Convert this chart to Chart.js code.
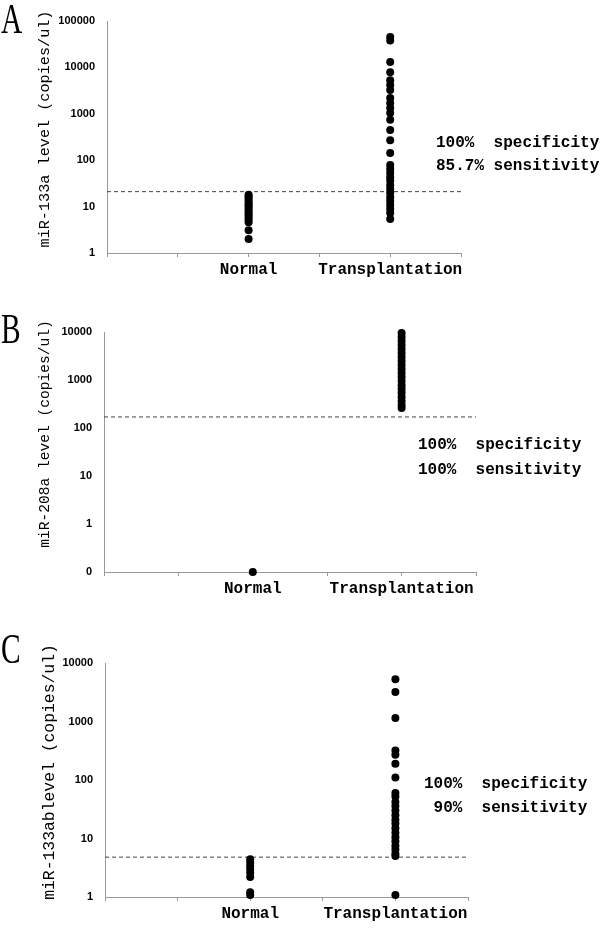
<!DOCTYPE html>
<html>
<head>
<meta charset="utf-8">
<script src="https://cdn.jsdelivr.net/npm/chart.js@4/dist/chart.umd.min.js"></script>
<style>
    body { margin: 0; background: #fff; }
    #quadro { position: relative; width: 600px; height: 929px; }
    canvas { position: absolute; left: 0; }
</style>
</head>
<body>
<div id="quadro">
    <canvas id="painel_a" width="600" height="290" style="top:0px"></canvas>
    <canvas id="painel_b" width="600" height="310" style="top:290px"></canvas>
    <canvas id="painel_c" width="600" height="329" style="top:600px"></canvas>
</div>
<script>
// categorias do eixo x (eixo linear de 0 a 5, grupos em 2 e 4)
const categorias = ["Normal", "Transplantation"];
const categorias_x = [2, 4];
const eixo_x_ticks = [0, 1, 2, 3, 4, 5];

// A - miR-133a
const a_normal = [2.0, 3.1, 4.6, 5.2, 5.8, 6.5, 7.2, 8.0, 9.0, 10, 11, 12, 13.5, 15, 16.5, 18];
const a_transplante = [45000, 38000, 13000, 7900, 5300, 4200, 3250, 2200, 1700, 1330, 1040, 740, 450, 270, 143,
    79, 65, 53, 43, 36, 29, 24, 19.6, 16, 13.2, 10.8, 8.9, 7.3, 5.4];
const a_corte = 21;
const a_ticks = [1, 10, 100, 1000, 10000, 100000];

// B - miR-208a (normais = 0, desenhados no fundo do eixo)
const b_normal = [0.1];
const b_transplante = [9500, 7900, 6500, 5350, 4400, 3650, 3000, 2500, 2050, 1700, 1400, 1150, 950, 780, 650,
    540, 440, 365, 300, 260];
const b_corte = 170;
const b_ticks = [0.1, 1, 10, 100, 1000, 10000];

// C - miR-133b
const c_normal = [1.08, 1.2, 2.2, 2.6, 3.0, 3.4, 3.9, 4.4];
const c_transplante = [5300, 3200, 1150, 320, 270, 190, 110, 60, 52, 42, 36, 30, 25, 21, 18, 15, 12.5, 10.5,
    9, 7.5, 6.5, 5.5, 5.0, 1.08];
const c_corte = 4.8;
const c_ticks = [1, 10, 100, 1000, 10000];

const fonte_mono = "'Liberation Mono', 'DejaVu Sans Mono', monospace";

// escreve letras, títulos do eixo y e os textos de especificidade
const pluginTextos = {
    id: "textos",
    afterDraw(chart, args, opts) {
        const ctx = chart.ctx;
        (opts.itens || []).forEach((it) => {
            ctx.save();
            ctx.font = it.fonte;
            ctx.fillStyle = "#000";
            ctx.textAlign = it.align || "left";
            ctx.textBaseline = it.base || "middle";
            ctx.translate(it.x, it.y);
            if (it.rot) ctx.rotate(it.rot);
            if (it.escalaX) ctx.scale(it.escalaX, 1);
            ctx.fillText(it.texto, 0, 0);
            ctx.restore();
        });
    },
};

function pontos(valores, x) {
    return valores.map((v) => ({ x: x, y: v }));
}

function montarPainel(id, normal, transplante, corte, ticks, opc) {
    return new Chart(id, {
        type: "scatter",
        data: {
            datasets: [
                {
                    data: pontos(normal, categorias_x[0]),
                    backgroundColor: "#000",
                    borderWidth: 0,
                    pointRadius: 4,
                    clip: false,
                },
                {
                    data: pontos(transplante, categorias_x[1]),
                    backgroundColor: "#000",
                    borderWidth: 0,
                    pointRadius: 4,
                    clip: false,
                },
                {
                    data: [{ x: 0, y: corte }, { x: 5, y: corte }],
                    showLine: true,
                    borderColor: "#444",
                    borderWidth: 1,
                    borderDash: [4, 3],
                    pointRadius: 0,
                },
            ],
        },
        options: {
            responsive: false,
            animation: false,
            layout: { padding: { top: opc.topo, right: opc.direita, left: 0, bottom: 0 } },
            plugins: {
                legend: { display: false },
                tooltip: { enabled: false },
                textos: { itens: opc.textos },
            },
            scales: {
                x: {
                    type: "linear",
                    min: 0,
                    max: 5,
                    afterFit: (s) => { s.height = opc.alturaX; },
                    afterBuildTicks: (s) => { s.ticks = eixo_x_ticks.map((v) => ({ value: v })); },
                    grid: { drawOnChartArea: false, drawTicks: true, tickLength: 4, color: "#999" },
                    border: { display: true, color: "#999", width: 1 },
                    ticks: {
                        autoSkip: false,
                        maxRotation: 0,
                        padding: 3,
                        color: "#000",
                        font: { family: fonte_mono, size: 16, weight: "bold" },
                        callback: (v) => {
                            const i = categorias_x.indexOf(v);
                            return i >= 0 ? categorias[i] : "";
                        },
                    },
                },
                y: {
                    type: "logarithmic",
                    min: ticks[0],
                    max: ticks[ticks.length - 1],
                    afterFit: (s) => { s.width = opc.larguraY; },
                    afterBuildTicks: (s) => { s.ticks = ticks.map((v) => ({ value: v })); },
                    grid: { display: false, drawTicks: false },
                    border: { display: true, color: "#999", width: 1 },
                    ticks: {
                        padding: 12,
                        color: "#000",
                        font: { family: "'Liberation Sans', Arial, sans-serif", size: 11, weight: "bold" },
                        callback: (v) => (v < 1 ? "0" : String(v)),
                    },
                },
            },
        },
        plugins: [pluginTextos],
    });
}

const fonte_letra = "42px 'Liberation Serif', 'DejaVu Serif', serif";
const fonte_nota = "bold 16px " + fonte_mono;

montarPainel("painel_a", a_normal, a_transplante, a_corte, a_ticks, {
    topo: 21, direita: 139, alturaX: 37, larguraY: 107,
    textos: [
        { texto: "A", x: 1, y: 33, fonte: fonte_letra, base: "alphabetic", escalaX: 0.7 },
        { texto: "miR-133a level (copies/ul)", x: 45, y: 129, rot: -Math.PI / 2, align: "center", fonte: "15.2px " + fonte_mono },
        { texto: "100%  specificity", x: 436, y: 143, fonte: fonte_nota },
        { texto: "85.7% sensitivity", x: 436, y: 166, fonte: fonte_nota },
    ],
});

montarPainel("painel_b", b_normal, b_transplante, b_corte, b_ticks, {
    topo: 42, direita: 124, alturaX: 28, larguraY: 104,
    textos: [
        { texto: "B", x: 1, y: 53, fonte: fonte_letra, base: "alphabetic", escalaX: 0.7 },
        { texto: "miR-208a level (copies/ul)", x: 45, y: 144, rot: -Math.PI / 2, align: "center", fonte: "14.6px " + fonte_mono },
        { texto: "100%  specificity", x: 418, y: 155, fonte: fonte_nota },
        { texto: "100%  sensitivity", x: 418, y: 180, fonte: fonte_nota },
    ],
});

montarPainel("painel_c", c_normal, c_transplante, c_corte, c_ticks, {
    topo: 63, direita: 132, alturaX: 32, larguraY: 105,
    textos: [
        { texto: "C", x: 1, y: 63, fonte: fonte_letra, base: "alphabetic", escalaX: 0.7 },
        { texto: "miR-133ablevel (copies/ul)", x: 50, y: 172, rot: -Math.PI / 2, align: "center", fonte: "16.4px " + fonte_mono },
        { texto: "100%  specificity", x: 424, y: 184, fonte: fonte_nota },
        { texto: " 90%  sensitivity", x: 424, y: 208, fonte: fonte_nota },
    ],
});
</script>
</body>
</html>
